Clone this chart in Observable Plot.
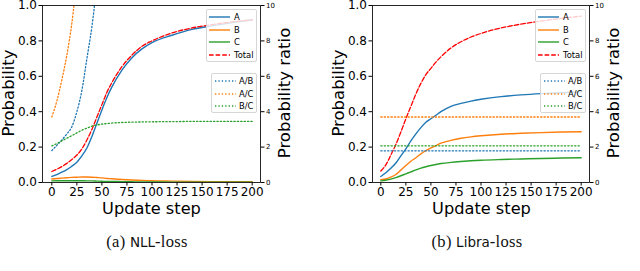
<!DOCTYPE html>
<html><head><meta charset="utf-8">
<script src="https://cdn.jsdelivr.net/npm/d3@7"></script>
<script src="https://cdn.jsdelivr.net/npm/@observablehq/plot@0.6"></script>
<style>
body{margin:0;background:#fff}
#fig{position:relative;width:640px;height:271px;overflow:hidden;font-family:"DejaVu Sans",sans-serif;background:#fff}
.panel{position:absolute;top:0}
.lab{position:absolute;white-space:nowrap;line-height:1;color:#000}
.leg{position:absolute;background:rgba(255,255,255,0.8);border:1px solid #d6d6d6;border-radius:2px;box-sizing:border-box}
.row{position:absolute;left:0;height:10px;font-size:8.4px;line-height:10px;white-space:nowrap}
.row svg{position:absolute;top:0}
.row span{position:absolute;top:0}
.cap{position:absolute;white-space:nowrap;font-family:"Liberation Serif","DejaVu Serif",serif;font-size:16.5px;line-height:1;letter-spacing:0.3px;color:#111}
.cap .sf{font-family:"DejaVu Sans",sans-serif;font-size:13.5px;letter-spacing:0}
</style></head>
<body><div id="fig"></div>
<script>
// ---------------- data ----------------
const steps = [0,5,10,15,20,25,30,35,40,45,50,55,60,70,80,90,100,120,140,160,180,200];

// (a) NLL-loss
const nllA     = [0.034,0.045,0.058,0.073,0.092,0.115,0.15,0.195,0.26,0.335,0.41,0.48,0.54,0.635,0.705,0.755,0.79,0.832,0.865,0.885,0.903,0.918];
const nllB     = [0.020,0.023,0.025,0.027,0.029,0.030,0.031,0.031,0.030,0.028,0.026,0.023,0.021,0.017,0.014,0.012,0.010,0.008,0.006,0.005,0.005,0.004];
const nllC     = [0.009,0.010,0.010,0.010,0.010,0.010,0.010,0.009,0.009,0.008,0.007,0.006,0.006,0.005,0.004,0.003,0.003,0.002,0.002,0.001,0.001,0.001];
const nllTotal = [0.062,0.075,0.09,0.108,0.13,0.155,0.19,0.24,0.30,0.37,0.44,0.51,0.565,0.655,0.72,0.77,0.80,0.845,0.873,0.892,0.907,0.92];
const nllAB    = [1.8,2.1,2.4,2.75,3.15,4.0,5.2,7.0,8.8,11.2,null,null,null,null,null,null,null,null,null,null,null,null];
const nllAC    = [3.7,4.6,5.8,7.2,9.0,11.5,null,null,null,null,null,null,null,null,null,null,null,null,null,null,null,null];
const nllBC    = [2.07,2.2,2.35,2.5,2.65,2.8,2.95,3.07,3.18,3.25,3.3,3.33,3.36,3.39,3.41,3.42,3.43,3.44,3.45,3.45,3.45,3.45];

// (b) Libra-loss
const libA     = [0.034,0.055,0.08,0.11,0.15,0.19,0.235,0.275,0.31,0.34,0.36,0.38,0.40,0.43,0.447,0.46,0.47,0.485,0.495,0.502,0.507,0.512];
const libB     = [0.016,0.02,0.03,0.045,0.07,0.096,0.12,0.14,0.162,0.18,0.195,0.209,0.222,0.238,0.25,0.258,0.264,0.273,0.278,0.282,0.285,0.287];
const libC     = [0.009,0.013,0.019,0.028,0.038,0.049,0.06,0.071,0.081,0.089,0.096,0.102,0.107,0.114,0.119,0.123,0.126,0.13,0.133,0.136,0.138,0.14];
const libTotal = [0.065,0.1,0.155,0.215,0.285,0.36,0.43,0.5,0.56,0.61,0.645,0.68,0.71,0.76,0.795,0.822,0.842,0.873,0.895,0.912,0.927,0.94];
const libAB    = steps.map(() => 1.79);
const libAC    = steps.map(() => 3.7);
const libBC    = steps.map(() => 2.07);

const xTicks = [0,25,50,75,100,125,150,175,200];
const yTicks = [0,0.2,0.4,0.6,0.8,1.0];
const probLegend  = ["A","B","C","Total"];
const ratioLegend = ["A/B","A/C","B/C"];
const captions = [["(a) ","NLL","-loss"],["(b) ","Libra","-loss"]];

// ---------------- styles ----------------
const C = {A:"#1f77b4", B:"#ff7f0e", C:"#2ca02c", Total:"#ff0000"};
const solid = {strokeWidth:1.4};
const dashed = {strokeWidth:1.3, strokeDasharray:"4.6,2"};
const dotted = {strokeWidth:1.3, strokeDasharray:"1.3,2.1"};

function rows(vals){ return steps.map((s,i)=>({s, v: vals[i]})); }

function panel(cfg){
  const probLine = (vals, color, st) => Plot.line(rows(vals), {x:"s", y:"v", stroke:color, curve:"monotone-x", clip:true, ...st});
  const ratioLine = (vals, color) => Plot.line(rows(vals), {x:"s", y:d => d.v == null ? NaN : d.v/10, stroke:color, curve:"monotone-x", clip:true, ...dotted});
  return Plot.plot({
    width:320, height:225,
    marginLeft:cfg.ml, marginRight:cfg.mr, marginTop:5, marginBottom:43,
    x:{domain:cfg.xd},
    y:{domain:[0,1]},
    style:{fontFamily:"DejaVu Sans", fontSize:"12px", color:"#000", background:"transparent", overflow:"visible"},
    marks:[
      probLine(cfg.A, C.A, solid),
      probLine(cfg.B, C.B, solid),
      probLine(cfg.C, C.C, solid),
      probLine(cfg.T, C.Total, dashed),
      ratioLine(cfg.AB, C.A),
      ratioLine(cfg.AC, C.B),
      ratioLine(cfg.BC, C.C),
      Plot.axisX({ticks:xTicks, tickSize:3.5, tickPadding:1.5, label:null, fontSize:12}),
      Plot.axisY({anchor:"left", ticks:yTicks, tickFormat:d=>d.toFixed(1), tickSize:3.5, tickPadding:2, label:null, fontSize:12}),
      Plot.axisY({anchor:"right", ticks:yTicks, tickFormat:d=>String(Math.round(d*10)), tickSize:3.5, tickPadding:2, label:null, fontSize:7}),
      Plot.frame({stroke:"#111", strokeWidth:0.9})
    ]
  });
}

const fig = document.getElementById("fig");

function addPanel(left, cfg){
  const div = document.createElement("div");
  div.className = "panel"; div.style.left = left + "px";
  div.appendChild(panel(cfg));
  fig.appendChild(div);
}

function label(text, cx, cy, size, rot){
  const d = document.createElement("div");
  d.className = "lab"; d.textContent = text;
  d.style.left = cx + "px"; d.style.top = cy + "px"; d.style.fontSize = size + "px";
  d.style.transform = "translate(-50%,-50%)" + (rot ? " rotate(-90deg)" : "");
  fig.appendChild(d);
}

function legend(x, y, w, h, names, styles, sampleX, textX){
  const box = document.createElement("div");
  box.className = "leg";
  Object.assign(box.style, {left:x+"px", top:y+"px", width:w+"px", height:h+"px"});
  names.forEach((n, i) => {
    const r = document.createElement("div");
    r.className = "row"; r.style.top = (2 + i*12.7) + "px"; r.style.width = w + "px";
    const st = styles[i];
    r.innerHTML = `<svg width="24" height="10" style="left:${sampleX}px"><line x1="0" x2="21" y1="5" y2="5" stroke="${st.c}" stroke-width="${st.w}" ${st.d ? `stroke-dasharray="${st.d}"` : ""}/></svg><span style="left:${textX}px">${n}</span>`;
    box.appendChild(r);
  });
  fig.appendChild(box);
}

addPanel(0,   {ml:42, mr:60, xd:[-9.3,208.3], A:nllA, B:nllB, C:nllC, T:nllTotal, AB:nllAB, AC:nllAC, BC:nllBC});
addPanel(320, {ml:52, mr:51, xd:[-8.3,208.3], A:libA, B:libB, C:libC, T:libTotal, AB:libAB, AC:libAC, BC:libBC});

const probStyles = [{c:C.A,w:1.4},{c:C.B,w:1.4},{c:C.C,w:1.4},{c:C.Total,w:1.3,d:"4.6,2"}];
const ratioStyles = [{c:C.A,w:1.3,d:"1.3,2.1"},{c:C.B,w:1.3,d:"1.3,2.1"},{c:C.C,w:1.3,d:"1.3,2.1"}];

legend(206, 9, 51, 53, probLegend, probStyles, 2, 27);
legend(211, 73, 46, 40, ratioLegend, ratioStyles, 3, 27);
legend(535, 9, 51, 53, probLegend, probStyles, 2, 27);
legend(540, 73, 46, 40, ratioLegend, ratioStyles, 3, 27);

label("Probability", 9, 93, 16.5, true);
label("Probability ratio", 285, 93, 16.5, true);
label("Update step", 151.5, 208.5, 16.2, false);
label("Probability", 339, 93, 16.5, true);
label("Probability ratio", 613.5, 93, 16.5, true);
label("Update step", 481.5, 208.5, 16.2, false);

[[147,242],[477,242]].forEach(([cx,cy],i)=>{
  const d = document.createElement("div");
  d.className = "cap";
  d.innerHTML = `${captions[i][0]}<span class="sf">${captions[i][1]}</span>${captions[i][2]}`;
  d.style.left = cx + "px"; d.style.top = cy + "px"; d.style.transform = "translate(-50%,-50%)";
  fig.appendChild(d);
});
</script></body></html>
